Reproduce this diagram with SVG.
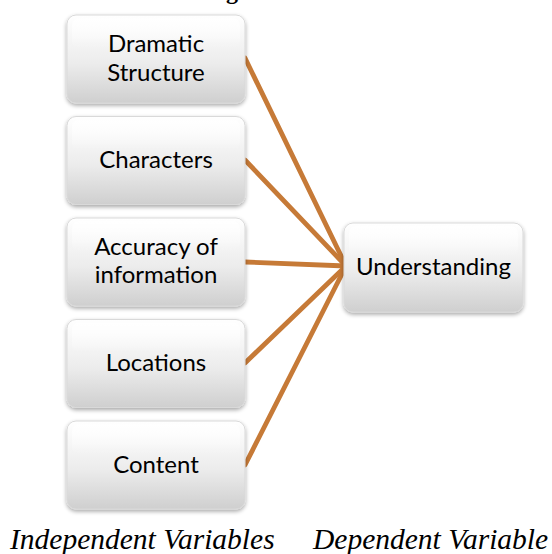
<svg xmlns="http://www.w3.org/2000/svg" width="552" height="554" viewBox="0 0 552 554">
<defs>
<linearGradient id="g" x1="0" y1="0" x2="0" y2="1">
<stop offset="0" stop-color="#ffffff"/>
<stop offset="0.55" stop-color="#ececec"/>
<stop offset="1" stop-color="#cfcfcf"/>
</linearGradient>
<linearGradient id="hl" x1="0" y1="0" x2="0" y2="1">
<stop offset="0" stop-color="#ffffff" stop-opacity="0.9"/>
<stop offset="1" stop-color="#ffffff" stop-opacity="0"/>
</linearGradient>
<filter id="sh" x="-10%" y="-10%" width="120%" height="130%">
<feGaussianBlur in="SourceAlpha" stdDeviation="2"/>
<feOffset dy="2" result="b"/>
<feComponentTransfer><feFuncA type="linear" slope="0.35"/></feComponentTransfer>
<feMerge><feMergeNode/><feMergeNode in="SourceGraphic"/></feMerge>
</filter>
</defs>
<style>
.box{fill:url(#g);stroke:#d9d9d9;stroke-width:1;filter:url(#sh)}
.hi{fill:url(#hl)}
.t{font-family:Lato,"Liberation Sans",sans-serif;font-size:24px;fill:#000;text-anchor:middle}
.c{stroke:#C67A37;stroke-width:4.8;fill:none;stroke-linecap:round}
.lbl{font-family:"Liberation Serif",serif;font-style:italic;font-size:29.5px;fill:#000}
</style>
<text x="226" y="-1" style="font-family:'Liberation Serif',serif;font-weight:bold;font-size:24px">g</text>
<g id="connectors">
<line class="c" x1="245" y1="58" x2="346" y2="266"/>
<line class="c" x1="245" y1="160" x2="346" y2="266"/>
<line class="c" x1="245" y1="262" x2="346" y2="266"/>
<line class="c" x1="245" y1="363" x2="346" y2="266"/>
<line class="c" x1="245" y1="465" x2="346" y2="266"/>
</g>
<g id="n1"><rect class="box" x="67" y="15" width="178" height="88" rx="9"/><rect class="hi" x="72" y="18" width="168" height="30" rx="7"/>
<text class="t" x="156" y="52">Dramatic</text><text class="t" x="156" y="81">Structure</text></g>
<g id="n2"><rect class="box" x="67" y="116.5" width="178" height="88" rx="9"/><rect class="hi" x="72" y="119.5" width="168" height="30" rx="7"/>
<text class="t" x="156" y="168">Characters</text></g>
<g id="n3"><rect class="box" x="67" y="218" width="178" height="88" rx="9"/><rect class="hi" x="72" y="221" width="168" height="30" rx="7"/>
<text class="t" x="156" y="255">Accuracy of</text><text class="t" x="156" y="283">information</text></g>
<g id="n4"><rect class="box" x="67" y="319.5" width="178" height="88" rx="9"/><rect class="hi" x="72" y="322.5" width="168" height="30" rx="7"/>
<text class="t" x="156" y="371">Locations</text></g>
<g id="n5"><rect class="box" x="67" y="421" width="178" height="88" rx="9"/><rect class="hi" x="72" y="424" width="168" height="30" rx="7"/>
<text class="t" x="156" y="473">Content</text></g>
<g id="n6"><rect class="box" x="344" y="223" width="179" height="89" rx="9"/><rect class="hi" x="349" y="226" width="169" height="30" rx="7"/>
<text class="t" x="433.5" y="275">Understanding</text></g>
<text class="lbl" x="10" y="549">Independent Variables</text>
<text class="lbl" x="313" y="549">Dependent Variable</text>
</svg>
